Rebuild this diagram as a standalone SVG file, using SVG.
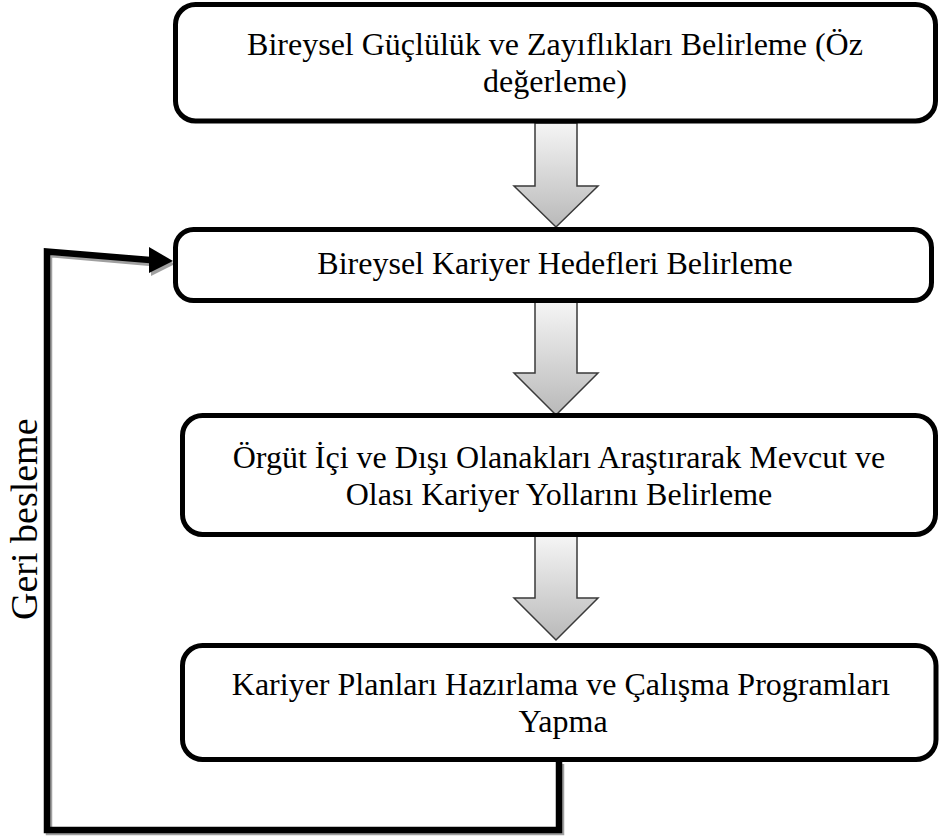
<svg xmlns="http://www.w3.org/2000/svg" width="939" height="839" viewBox="0 0 939 839">
<defs>
<linearGradient id="ag" x1="0" y1="0" x2="0" y2="1">
<stop offset="0" stop-color="#f5f5f5"/>
<stop offset="1" stop-color="#b9b9b9"/>
</linearGradient>
<style>
.box{fill:#fff;stroke:#000;stroke-width:5}
.lbl{font-family:"Liberation Serif","Times New Roman",serif;font-size:32px;fill:#000;text-anchor:middle}
.blk{fill:url(#ag);stroke:#3a3a3a;stroke-width:1.5;stroke-linejoin:miter}
.fb{fill:none;stroke:#000;stroke-width:6.5;stroke-linejoin:miter}
.fbs{fill:none;stroke:#a0a0a0;stroke-width:6.5;stroke-linejoin:miter}
</style>
</defs>
<rect width="939" height="839" fill="#fff"/>
<g id="connectors">
<path class="blk" d="M535,123 L577,123 L577,186 L598,186 L556,227 L514,186 L535,186 Z"/>
<path class="blk" d="M535,302 L577,302 L577,373 L598,373 L556,415 L514,373 L535,373 Z"/>
<path class="blk" d="M535,536 L577,536 L577,598 L598,598 L556,640 L514,598 L535,598 Z"/>
<g id="feedback">
<path class="fbs" d="M561,764 L561,832 L49,832 L49,254 L152,263"/>
<polygon points="151,250 175,264 151,276" fill="#a0a0a0"/>
<path class="fb" d="M559,762 L559,830 L47,830 L47,251.5 L150,260"/>
<polygon points="149,247 173,261 149,273" fill="#000"/>
</g>
<text id="feedback-label" transform="translate(37,620) rotate(-90)" font-family="'Liberation Serif','Times New Roman',serif" font-size="38" fill="#000">Geri besleme</text>
</g>
<g id="node1">
<rect class="box" x="175.5" y="4.5" width="760" height="116.5" rx="20"/>
<text class="lbl" x="555" y="55">Bireysel Güçlülük ve Zayıflıkları Belirleme (Öz</text>
<text class="lbl" x="555" y="92">değerleme)</text>
</g>
<g id="node2">
<rect class="box" x="175.5" y="229.5" width="756" height="71" rx="18"/>
<text class="lbl" x="555" y="274">Bireysel Kariyer Hedefleri Belirleme</text>
</g>
<g id="node3">
<rect class="box" x="182.5" y="415.5" width="753" height="119" rx="20"/>
<text class="lbl" x="559" y="468">Örgüt İçi ve Dışı Olanakları Araştırarak Mevcut ve</text>
<text class="lbl" x="559" y="505">Olası Kariyer Yollarını Belirleme</text>
</g>
<g id="node4">
<rect class="box" x="182.5" y="645.5" width="753.5" height="114" rx="20"/>
<text class="lbl" x="561" y="695">Kariyer Planları Hazırlama ve Çalışma Programları</text>
<text class="lbl" x="563" y="732">Yapma</text>
</g>
</svg>
